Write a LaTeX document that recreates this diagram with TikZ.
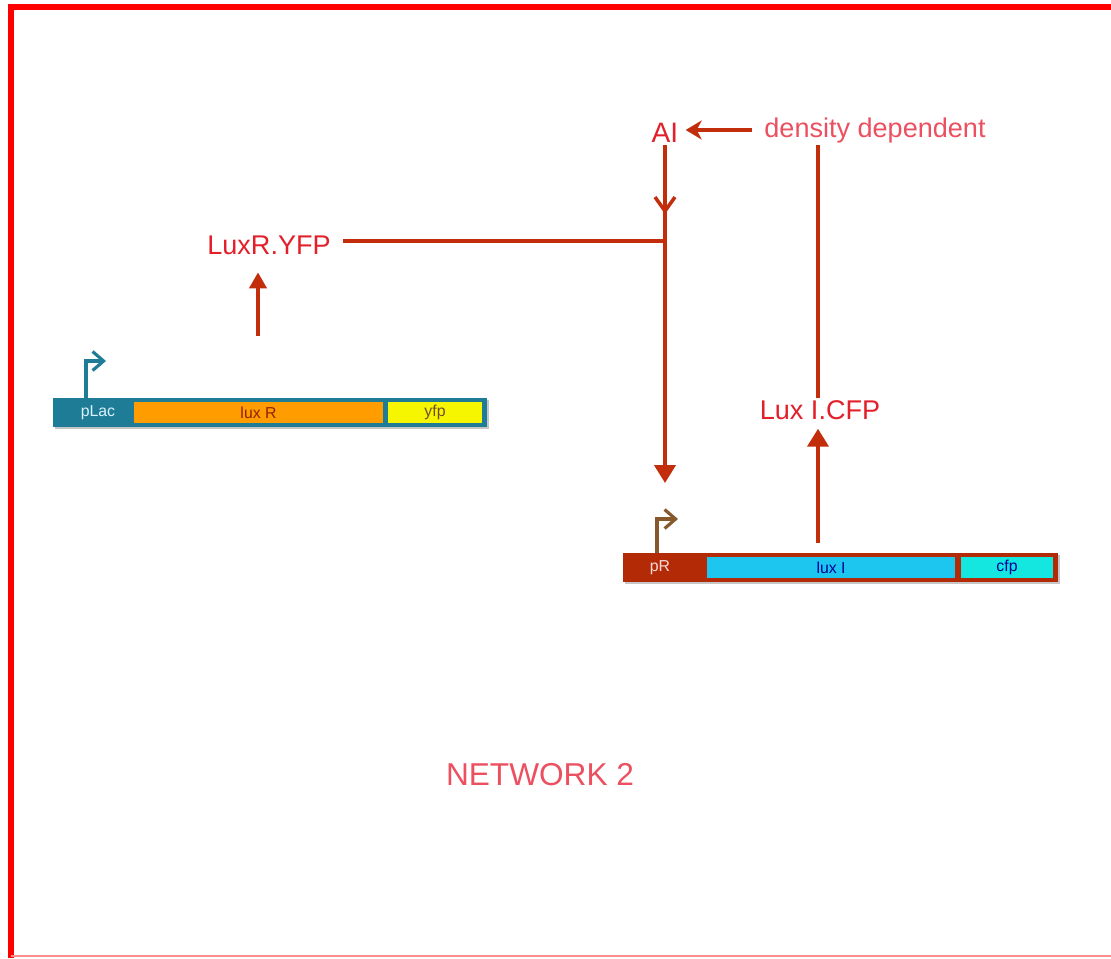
\documentclass[tikz,border=0pt]{standalone}
\usepackage{fontspec}
\setmainfont{Liberation Sans}
\usepackage{xcolor}
\definecolor{framered}{rgb}{1,0,0}
\definecolor{arrowred}{HTML}{C22E0C}
\definecolor{labelred}{HTML}{E2202A}
\definecolor{softred}{HTML}{EC5060}
\definecolor{lacteal}{HTML}{1F7C96}
\definecolor{luxorange}{HTML}{FF9C00}
\definecolor{yfpyellow}{HTML}{F6F600}
\definecolor{prred}{HTML}{B32B06}
\definecolor{luxcyan}{HTML}{1CC6EE}
\definecolor{cfpcyan}{HTML}{14E6E0}
\usetikzlibrary{arrows.meta, calc, positioning, shadows, decorations.markings}

\begin{document}
\begin{tikzpicture}[x=0.02cm, y=-0.02cm,
  lbl/.style={font=\fontsize{15.4}{18}\selectfont, text=labelred, inner sep=1pt},
  gbar/.style={draw=none, minimum height=0.58cm, inner sep=0pt, drop shadow={shadow xshift=1pt, shadow yshift=-1.2pt, opacity=0.45}},
  gpart/.style={draw=none, minimum height=0.42cm, inner sep=0pt, font=\fontsize{9}{10}\selectfont},
  flow/.style={-{Triangle[length=0.36cm, width=0.42cm]}, arrowred, line width=2.3pt},
  link/.style={arrowred, line width=2.3pt},
  prom/.style={-{Straight Barb[length=0.22cm, width=0.38cm, line width=1.8pt]}, line width=1.8pt}
]
\useasboundingbox (0,0) rectangle (1111,958);
% frame
\draw[framered, line width=3.4pt] (11,958) -- (11,7) -- (1111,7);
\draw[framered!45, line width=1pt] (11,956) -- (1111,956);

% gene 1
\node[gbar, fill=lacteal, minimum width=8.68cm] (g1) at (270,412.5) {};
\node[gpart, fill=luxorange, minimum width=4.98cm, text=prred!80!black] (luxr) at (258.5,412.5) {lux R};
\node[gpart, fill=yfpyellow, minimum width=1.88cm, text=brown!60!black] (yfp) at (435,412.5) {yfp};
\node[gpart, text=cyan!15!white] (plac) at (98,412.5) {pLac};
\draw[prom, lacteal] (86,398) -- (86,361) -- (106,361);

% gene 2
\node[gbar, fill=prred, minimum width=8.7cm] (g2) at (840.5,567.5) {};
\node[gpart, fill=luxcyan, minimum width=4.96cm, text=blue!60!black] (luxi) at (831,567.5) {lux I};
\node[gpart, fill=cfpcyan, minimum width=1.84cm, text=blue!60!black] (cfp) at (1007,567.5) {cfp};
\node[gpart, text=red!15!white] (pr) at (660,567.5) {pR};
\draw[prom, brown!70!black] (657,553) -- (657,519) -- (678,519);

% labels
\node[lbl] (luxryfp) at (269,245) {LuxR.YFP};
\node[lbl, font=\fontsize{16}{18}\selectfont] (ai) at (665,133) {AI};
\node[lbl, text=softred] (dens) at (875,130) {density dependent};
\node[lbl] (luxicfp) at (820,410) {Lux I.CFP};
\node[font=\fontsize{18}{20}\selectfont, text=softred] (net) at (540,775) {NETWORK 2};

\coordinate (j) at (665,241);
\coordinate (pin) at (665,483);
\coordinate (rout) at (258,336);
\coordinate (iout) at (818,543);

% connectors
\draw[flow, -{Triangle[length=0.32cm, width=0.34cm]}, shorten >=9pt] (rout) -- (rout |- luxryfp.south);
\draw[link] (luxryfp.east) ++(10,-4) -- (j);
\draw[flow] (j) -- (pin);
\draw[link, postaction={decorate}, decoration={markings, mark=at position 0.72 with {\arrow{Straight Barb[length=0.28cm, width=0.4cm, line width=2pt]}}}] (ai.south) -- (j);
\draw[link, -{Stealth[length=0.32cm, width=0.38cm, inset=0.1cm]}, shorten >=3pt] (dens.west) ++(-10,0) -- (ai.east |- dens.west);
\draw[link] (iout |- luxicfp.north) -- (iout |- dens.south);
\draw[flow, shorten >=4pt] (iout) -- (iout |- luxicfp.south);
\end{tikzpicture}
\end{document}
